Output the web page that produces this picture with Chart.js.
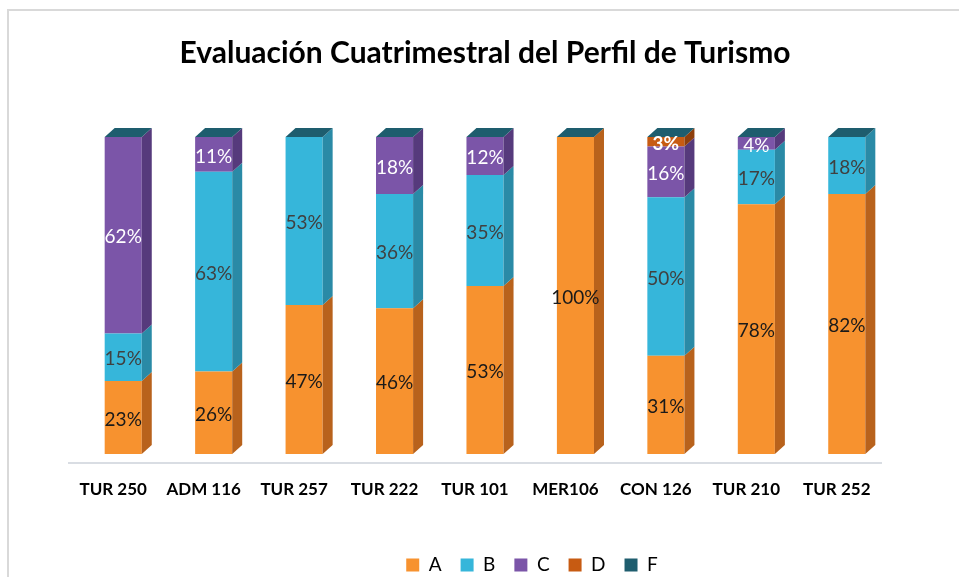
<!DOCTYPE html>
<html>
<head>
<meta charset="utf-8">
<script src="https://cdn.jsdelivr.net/npm/chart.js@4.4.1/dist/chart.umd.min.js"></script>
<style>
  html, body { margin: 0; padding: 0; background: #fff; }
  #wrap { position: relative; width: 959px; height: 577px; }
</style>
</head>
<body>
<div id="wrap"><canvas id="perfil-chart" width="959" height="577"></canvas></div>
<script>
// data (percent of students per grade)
const categories = ["TUR 250","ADM 116","TUR 257","TUR 222","TUR 101","MER106","CON 126","TUR 210","TUR 252"]
const gradeA = [23, 26, 47, 46, 53, 100, 31, 78, 82]
const gradeB = [15, 63, 53, 36, 35, 0, 50, 17, 18]
const gradeC = [62, 11, 0, 18, 12, 0, 16, 4, 0]
const gradeD = [0, 0, 0, 0, 0, 0, 3, 0, 0]
const gradeF = [0, 0, 0, 0, 0, 0, 0, 0, 0]

const seriesNames = ["A","B","C","D","F"]
const seriesRaw = [gradeA, gradeB, gradeC, gradeD, gradeF]
const frontColors = ["#f7922f","#36b6da","#7b55a8","#c75b12","#1e5d6e"]
const sideColors  = ["#b8621c","#2a8aa6","#563a7c","#8e3f0c","#134452"]
const labelColors = ["#1a1a1a","#404040","#ffffff","#ffffff","#ffffff"]

// 100% stacked: each column is scaled to its own total
const totals = categories.map((c, i) => seriesRaw.reduce((s, arr) => s + arr[i], 0))

const DX = 10, DY = 9  // depth of the fake 3d

const bars3d = {
    id: "bars3d",
    beforeDraw(chart) {
        const ctx = chart.ctx
        ctx.save()
        ctx.strokeStyle = "#d9d9d9"
        ctx.lineWidth = 2
        ctx.beginPath()
        ctx.moveTo(8, 577)
        ctx.lineTo(8, 10)
        ctx.lineTo(959, 10)
        ctx.stroke()
        ctx.restore()
    },
    beforeDatasetsDraw(chart) {
        const ctx = chart.ctx
        const a = chart.chartArea
        const y0 = chart.scales.y.getPixelForValue(0) + DY
        ctx.save()
        ctx.strokeStyle = "#d9dde3"
        ctx.lineWidth = 2
        ctx.beginPath()
        ctx.moveTo(a.left - DX, y0)
        ctx.lineTo(a.right - DX, y0)
        ctx.stroke()
        ctx.restore()
    },
    afterDatasetsDraw(chart) {
        const ctx = chart.ctx
        ctx.save()
        const n = chart.data.datasets.length
        for (let d = 0; d < n; d++) {
            const meta = chart.getDatasetMeta(d)
            meta.data.forEach((bar, i) => {
                const p = bar.getProps(["x","y","base","width"], true)
                const r = p.x + p.width / 2
                const l = p.x - p.width / 2
                if (seriesRaw[d][i] > 0) {
                    ctx.fillStyle = sideColors[d]
                    ctx.beginPath()
                    ctx.moveTo(r, p.y)
                    ctx.lineTo(r + DX, p.y - DY)
                    ctx.lineTo(r + DX, p.base - DY)
                    ctx.lineTo(r, p.base)
                    ctx.closePath()
                    ctx.fill()
                }
                if (d === n - 1) {
                    // top cap of the column
                    ctx.fillStyle = frontColors[d]
                    ctx.beginPath()
                    ctx.moveTo(l, p.y)
                    ctx.lineTo(l + DX, p.y - DY)
                    ctx.lineTo(r + DX, p.y - DY)
                    ctx.lineTo(r, p.y)
                    ctx.closePath()
                    ctx.fill()
                }
            })
        }
        // value labels
        ctx.textAlign = "center"
        ctx.textBaseline = "middle"
        for (let d = 0; d < n; d++) {
            const meta = chart.getDatasetMeta(d)
            ctx.fillStyle = labelColors[d]
            ctx.font = (d === 3 ? "bold " : "") + "19px Lato"
            meta.data.forEach((bar, i) => {
                const v = seriesRaw[d][i]
                if (!v) return
                const p = bar.getProps(["x","y","base"], true)
                ctx.fillText(v + "%", p.x, (p.y + p.base) / 2 + 2)
            })
        }
        ctx.restore()
    },
    afterLayout(chart) {
        // legend in the reference sits right of the centre
        chart.legend.left += 47
        chart.legend.right += 47
    }
}

const datasets = seriesNames.map((name, d) => ({
    label: name,
    data: seriesRaw[d].map((v, i) => v / totals[i] * 100),
    backgroundColor: frontColors[d],
    borderWidth: 0,
    categoryPercentage: 1,
    barPercentage: 0.41
}))

new Chart("perfil-chart", {
    type: "bar",
    data: { labels: categories, datasets: datasets },
    plugins: [bars3d],
    options: {
        responsive: false,
        animation: false,
        layout: { padding: { left: 78, right: 67, top: 0, bottom: -7.5 } },
        scales: {
            x: {
                stacked: true,
                grid: { display: false, drawTicks: false },
                border: { display: false },
                ticks: {
                    color: "#000",
                    font: { family: "Lato", weight: "bold", size: 17 },
                    padding: 25,
                    labelOffset: -10,
                    maxRotation: 0
                },
                afterFit(scale) { scale.height = 82.5 }
            },
            y: {
                stacked: true,
                display: false,
                min: 0,
                max: 100
            }
        },
        plugins: {
            title: {
                display: true,
                text: "Evaluación Cuatrimestral del Perfil de Turismo",
                color: "#000",
                font: { family: "Lato", weight: "bold", size: 30 },
                padding: { top: 35, bottom: 66 }
            },
            legend: {
                position: "bottom",
                labels: {
                    color: "#000",
                    font: { family: "Lato", size: 19 },
                    boxWidth: 13,
                    boxHeight: 13,
                    padding: 19
                }
            },
            tooltip: { enabled: false }
        }
    }
});
</script>
</body>
</html>
